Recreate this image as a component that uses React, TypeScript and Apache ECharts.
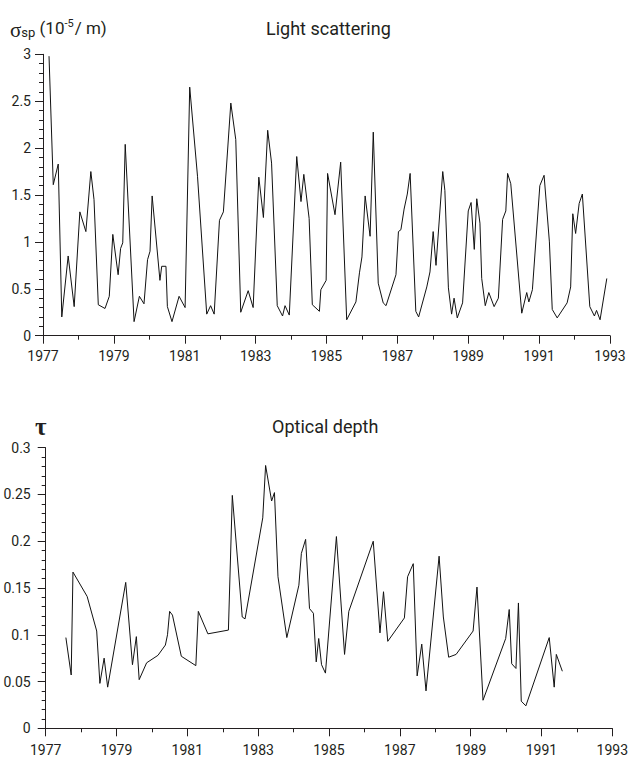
import React, { useEffect, useRef } from "react";
import * as echarts from "echarts";

// Light scattering (top panel)
const scatYears = [
  1977.17, 1977.29, 1977.43, 1977.53, 1977.71, 1977.88, 1978.04, 1978.21, 1978.35, 1978.44,
  1978.56, 1978.75, 1978.87, 1978.97, 1979.12, 1979.19, 1979.25, 1979.32, 1979.57, 1979.72,
  1979.85, 1979.95, 1980.02, 1980.08, 1980.30, 1980.35, 1980.47, 1980.51, 1980.64, 1980.84,
  1981.01, 1981.14, 1981.36, 1981.62, 1981.73, 1981.83, 1981.98, 1982.09, 1982.30, 1982.44,
  1982.58, 1982.79, 1982.93, 1983.09, 1983.22, 1983.34, 1983.45, 1983.61, 1983.76, 1983.83,
  1983.95, 1984.16, 1984.28, 1984.36, 1984.51, 1984.60, 1984.80, 1984.84, 1984.99, 1985.03,
  1985.24, 1985.40, 1985.57, 1985.83, 1985.93, 1986.00, 1986.09, 1986.23, 1986.32, 1986.46,
  1986.60, 1986.68, 1986.96, 1987.03, 1987.10, 1987.19, 1987.28, 1987.36, 1987.52, 1987.60,
  1987.83, 1987.92, 1988.01, 1988.09, 1988.28, 1988.34, 1988.44, 1988.53, 1988.60, 1988.69,
  1988.84, 1989.00, 1989.08, 1989.17, 1989.24, 1989.33, 1989.38, 1989.48, 1989.58, 1989.73,
  1989.85, 1989.97, 1990.06, 1990.11, 1990.20, 1990.51, 1990.65, 1990.71, 1990.81, 1991.02,
  1991.14, 1991.29, 1991.37, 1991.51, 1991.79, 1991.89, 1991.95, 1992.03, 1992.13, 1992.22,
  1992.43, 1992.56, 1992.62, 1992.72, 1992.91,
];
const scatValues = [
  2.98, 1.61, 1.83, 0.20, 0.85, 0.31, 1.32, 1.11, 1.75, 1.45,
  0.33, 0.29, 0.42, 1.08, 0.65, 0.93, 0.99, 2.04, 0.15, 0.42,
  0.34, 0.81, 0.90, 1.49, 0.59, 0.74, 0.74, 0.31, 0.15, 0.42,
  0.30, 2.65, 1.70, 0.23, 0.32, 0.23, 1.23, 1.32, 2.48, 2.09,
  0.25, 0.48, 0.30, 1.69, 1.26, 2.19, 1.84, 0.32, 0.21, 0.32,
  0.22, 1.91, 1.43, 1.72, 1.25, 0.33, 0.26, 0.49, 0.59, 1.73,
  1.29, 1.85, 0.17, 0.36, 0.67, 0.84, 1.49, 1.06, 2.17, 0.56,
  0.35, 0.32, 0.65, 1.11, 1.13, 1.35, 1.51, 1.73, 0.26, 0.20,
  0.52, 0.68, 1.11, 0.75, 1.75, 1.55, 0.51, 0.23, 0.40, 0.19,
  0.35, 1.33, 1.42, 0.92, 1.46, 1.20, 0.61, 0.32, 0.46, 0.31,
  0.40, 1.24, 1.33, 1.73, 1.62, 0.24, 0.46, 0.36, 0.49, 1.60,
  1.71, 1.00, 0.28, 0.19, 0.35, 0.52, 1.30, 1.09, 1.41, 1.51,
  0.31, 0.21, 0.27, 0.17, 0.61,
];

// Optical depth (bottom panel)
const depthYears = [
  1977.57, 1977.72, 1977.77, 1978.17, 1978.44, 1978.53, 1978.65, 1978.75, 1979.26, 1979.45,
  1979.56, 1979.64, 1979.85, 1980.17, 1980.38, 1980.44, 1980.50, 1980.58, 1980.83, 1981.24,
  1981.31, 1981.58, 1982.16, 1982.27, 1982.55, 1982.63, 1983.13, 1983.21, 1983.38, 1983.46,
  1983.56, 1983.81, 1984.15, 1984.22, 1984.34, 1984.45, 1984.56, 1984.64, 1984.71, 1984.79,
  1984.90, 1985.21, 1985.44, 1985.56, 1986.25, 1986.44, 1986.54, 1986.66, 1987.13, 1987.22,
  1987.38, 1987.49, 1987.62, 1987.74, 1988.11, 1988.23, 1988.38, 1988.59, 1989.07, 1989.18,
  1989.35, 1989.99, 1990.09, 1990.16, 1990.28, 1990.35, 1990.43, 1990.56, 1991.22, 1991.36,
  1991.42, 1991.59,
];
const depthValues = [
  0.097, 0.057, 0.167, 0.141, 0.104, 0.048, 0.075, 0.044, 0.156, 0.068,
  0.098, 0.052, 0.070, 0.078, 0.089, 0.100, 0.125, 0.121, 0.077, 0.067,
  0.125, 0.101, 0.105, 0.249, 0.119, 0.117, 0.225, 0.281, 0.243, 0.252,
  0.162, 0.097, 0.153, 0.187, 0.202, 0.128, 0.123, 0.071, 0.096, 0.068,
  0.059, 0.205, 0.079, 0.125, 0.200, 0.102, 0.146, 0.093, 0.118, 0.162,
  0.176, 0.056, 0.090, 0.040, 0.184, 0.119, 0.076, 0.079, 0.104, 0.151,
  0.030, 0.096, 0.127, 0.069, 0.064, 0.134, 0.029, 0.024, 0.097, 0.044,
  0.079, 0.061,
];

const xMin = 1977;
const xMax = 1993;
const titleTop = "Light scattering";
const titleBottom = "Optical depth";

const FONT = 'Roboto, "Liberation Sans", sans-serif';
const SERIF = '"Liberation Serif", "DejaVu Serif", serif';
const INK = "#231f20";

function xAxisDef(gridIndex: number, margin: number) {
  return {
    type: "value",
    gridIndex,
    min: xMin,
    max: xMax,
    interval: 2,
    axisLine: { show: true, onZero: false, lineStyle: { color: INK, width: 1 } },
    axisTick: { show: true, inside: false, length: 8, lineStyle: { color: INK, width: 1 } },
    minorTick: { show: true, splitNumber: 2, length: 4, lineStyle: { color: INK, width: 1 } },
    splitLine: { show: false },
    axisLabel: {
      color: INK,
      fontSize: 14,
      fontFamily: FONT,
      margin,
      formatter: (v: number) => String(Math.round(v)),
    },
  };
}

function yAxisDef(gridIndex: number, max: number, interval: number, margin: number) {
  return {
    type: "value",
    gridIndex,
    min: 0,
    max,
    interval,
    axisLine: { show: true, onZero: false, lineStyle: { color: INK, width: 1 } },
    axisTick: { show: true, inside: false, length: 8, lineStyle: { color: INK, width: 1 } },
    minorTick: { show: true, splitNumber: 5, length: 4, lineStyle: { color: INK, width: 1 } },
    splitLine: { show: false },
    axisLabel: {
      color: INK,
      fontSize: 14,
      fontFamily: FONT,
      margin,
      formatter: (v: number) => String(parseFloat(v.toFixed(3))),
    },
  };
}

export default function App() {
  const ref = useRef<HTMLDivElement>(null);
  useEffect(() => {
    if (!ref.current) return;
    const chart = echarts.init(ref.current, undefined, { renderer: "svg" });
    const scatData = scatYears.map((y, i) => [y, scatValues[i]]);
    const depthData = depthYears.map((y, i) => [y, depthValues[i]]);
    chart.setOption({
      animation: false,
      backgroundColor: "#fff",
      title: [
        {
          left: 10,
          top: 15,
          padding: 0,
          text: "{s|σ}{sub|sp}{n| (10}{sup|-5}{n|/ m)}",
          textStyle: {
            fontWeight: "normal",
            fontFamily: FONT,
            color: INK,
            rich: {
              s: { fontFamily: SERIF, fontWeight: "normal", fontSize: 21, color: INK, padding: [4, 0, 0, 0] },
              sub: { fontFamily: FONT, fontWeight: "normal", fontSize: 13, color: INK, padding: [9, 0, 0, 0] },
              n: { fontFamily: FONT, fontWeight: "normal", fontSize: 17, color: INK },
              sup: { fontFamily: FONT, fontWeight: "normal", fontSize: 11, color: INK, padding: [0, 1, 9, 0] },
            },
          },
        },
      ],
      graphic: [
        {
          type: "text",
          x: 266,
          y: 28.5,
          style: {
            text: titleTop,
            fill: INK,
            font: `18px ${FONT}`,
            align: "left",
            verticalAlign: "middle",
            textAlign: "left",
            textVerticalAlign: "middle",
          },
        },
        {
          type: "text",
          x: 272,
          y: 426.5,
          style: {
            text: titleBottom,
            fill: INK,
            font: `18px ${FONT}`,
            align: "left",
            verticalAlign: "middle",
            textAlign: "left",
            textVerticalAlign: "middle",
          },
        },
        {
          type: "text",
          x: 35,
          y: 426,
          style: {
            text: "τ",
            fill: INK,
            font: `bold 25px ${SERIF}`,
            align: "left",
            verticalAlign: "middle",
            textAlign: "left",
            textVerticalAlign: "middle",
          },
        },
      ],
      grid: [
        { left: 43, top: 54.3, width: 567, height: 281.4, containLabel: false },
        { left: 45.7, top: 447.7, width: 567.6, height: 280.6, containLabel: false },
      ],
      xAxis: [xAxisDef(0, 13), xAxisDef(1, 15)],
      yAxis: [yAxisDef(0, 3, 0.5, 12), yAxisDef(1, 0.3, 0.05, 15)],
      series: [
        {
          type: "line",
          xAxisIndex: 0,
          yAxisIndex: 0,
          data: scatData,
          showSymbol: false,
          symbol: "none",
          lineStyle: { color: "#111", width: 1 },
        },
        {
          type: "line",
          xAxisIndex: 1,
          yAxisIndex: 1,
          data: depthData,
          showSymbol: false,
          symbol: "none",
          lineStyle: { color: "#111", width: 1 },
        },
      ],
    });
    return () => chart.dispose();
  }, []);
  return (
    <div
      ref={ref}
      style={{ position: "absolute", left: 0, top: 0, width: 631, height: 759, background: "#fff" }}
    />
  );
}
